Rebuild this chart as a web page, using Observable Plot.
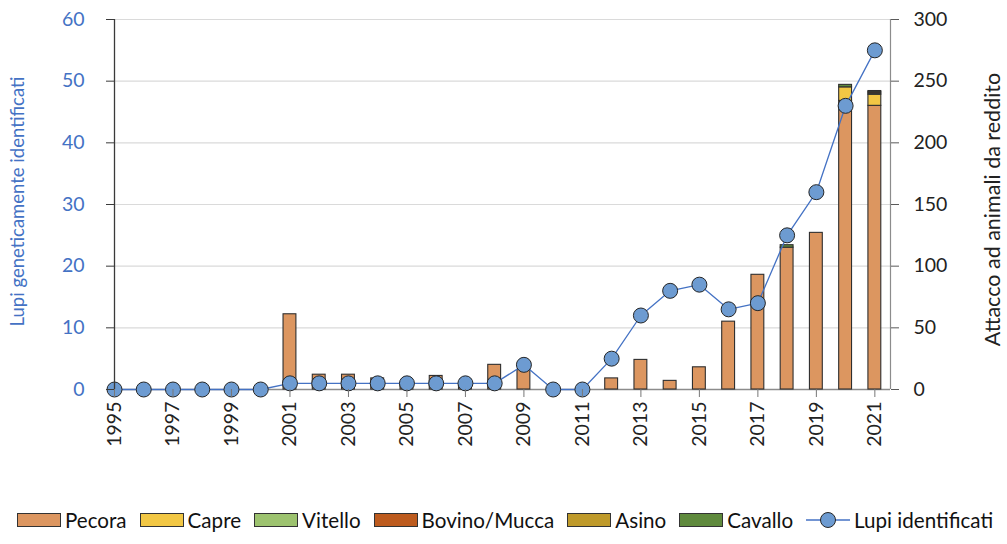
<!DOCTYPE html>
<html>
<head>
<meta charset="utf-8">
<script src="https://cdn.jsdelivr.net/npm/d3@7"></script>
<script src="https://cdn.jsdelivr.net/npm/@observablehq/plot@0.6"></script>
<style>
  html, body { margin: 0; padding: 0; background: #fff; overflow: hidden; }
  body { width: 1007px; height: 544px; font-family: Lato, "Open Sans", sans-serif; }
  #legend { display: flex; align-items: center; white-space: nowrap; height: 26px; margin-top: 7px;
            padding-left: 17px; font-size: 20.6px; color: #111; overflow: hidden; width: 990px; }
  .item { display: flex; align-items: center; margin-right: 13px; }
  .sw { width: 44px; height: 14px; border: 1px solid #333; box-sizing: border-box; margin-right: 4px; }
</style>
</head>
<body>
<div id="chart"></div>
<div id="legend"></div>
<script>
const years   = [1995,1996,1997,1998,1999,2000,2001,2002,2003,2004,2005,2006,2007,2008,2009,2010,2011,2012,2013,2014,2015,2016,2017,2018,2019,2020,2021];
const pecora  = [0,0,0,0,0,0,61,12,12,9,5,11,3,20,16,0,0,9,24,7,18,55,93,115,127,234,230];
const capre   = [0,0,0,0,0,0,0,0,0,0,0,0,0,0,0,0,0,0,0,0,0,0,0,0,0,11,9];
const vitello = [0,0,0,0,0,0,0,0,0,0,0,0,0,0,0,0,0,0,0,0,0,0,0,0,0,0,1];
const bovino  = [0,0,0,0,0,0,0,0,0,0,0,0,0,0,0,0,0,0,0,0,0,0,0,0,0,0,1];
const asino   = [0,0,0,0,0,0,0,0,0,0,0,0,0,0,0,0,0,0,0,0,0,0,0,0,0,0,0];
const cavallo = [0,0,0,0,0,0,0,0,0,0,0,0,0,0,0,0,0,0,0,0,0,0,0,2,0,2,1];
const lupi    = [0,0,0,0,0,0,1,1,1,1,1,1,1,1,4,0,0,5,12,16,17,13,14,25,32,46,55];

const seriesNames  = ["Pecora","Capre","Vitello","Bovino/Mucca","Asino","Cavallo"];
const seriesValues = [pecora, capre, vitello, bovino, asino, cavallo];
const seriesColors = ["#dc9660","#f2c744","#9dc36f","#bd5b1e","#bf9a2a","#5f8a3d"];
const lineName = "Lupi identificati";
const leftTicks  = [0,10,20,30,40,50,60];
const rightTicks = [0,50,100,150,200,250,300];
const xTicks = [1995,1997,1999,2001,2003,2005,2007,2009,2011,2013,2015,2017,2019,2021];
const leftTitle  = "Lupi geneticamente identificati";
const rightTitle = "Attacco ad animali da reddito";

// stacked table
const stacked = [];
years.forEach((yr, i) => {
  let base = 0;
  seriesNames.forEach((name, s) => {
    const v = seriesValues[s][i];
    if (v > 0) stacked.push({year: yr, species: name, y1: base, y2: base + v});
    base += v;
  });
});
const lineData = years.map((yr, i) => ({year: yr, lupi: lupi[i]}));

const ratio = 5; // right axis (300) / left axis (60)
const blue = "#4472c4";
const xDomain = [1995, 2021.535];
const halfW = 0.22;

const plot = Plot.plot({
  width: 1007,
  height: 500,
  marginLeft: 114,
  marginRight: 117,
  marginTop: 19,
  marginBottom: 111,
  style: {fontFamily: "Lato, 'Open Sans', sans-serif", fontSize: "19.5px", background: "#fff"},
  x: {type: "linear", domain: xDomain},
  y: {domain: [0, 300]},
  color: {domain: seriesNames, range: seriesColors},
  marks: [
    Plot.gridY(rightTicks.slice(1), {stroke: "#dadada", strokeOpacity: 1, strokeWidth: 1.1}),
    Plot.ruleY([0], {stroke: "#8c8c8c", strokeWidth: 1.5}),
    Plot.rectY(stacked, {
      x1: d => d.year - halfW, x2: d => d.year + halfW,
      y1: "y1", y2: "y2", fill: "species", stroke: "#2f2f2f", strokeWidth: 1.1
    }),
    Plot.line(lineData, {x: "year", y: d => d.lupi * ratio, stroke: blue, strokeWidth: 1.3}),
    Plot.dot(lineData, {x: "year", y: d => d.lupi * ratio, r: 7.5, fill: "#6d9bd1", stroke: "#262626", strokeWidth: 1, fillOpacity: 1}),
    Plot.ruleX([xDomain[0]], {stroke: "#3a3a3a", strokeWidth: 1.3}),
    Plot.ruleX([xDomain[1]], {stroke: "#8c8c8c", strokeWidth: 1.2}),
    Plot.axisY(leftTicks.map(d => d * ratio), {
      anchor: "left", tickFormat: d => String(d / ratio), tickSize: 8, tickPadding: 22,
      stroke: "#3a3a3a", fill: blue, label: null, fontSize: 19.5
    }),
    Plot.axisY(rightTicks, {
      anchor: "right", tickSize: 8, tickPadding: 15, stroke: "#5a5a5a", fill: "#222", label: null, fontSize: 19.5
    }),
    Plot.axisX(xTicks, {
      anchor: "bottom", tickFormat: d => String(d), tickRotate: -90, tickSize: 8, tickPadding: 4,
      stroke: "#777", fill: "#222", label: null, fontSize: 19.5
    }),
    Plot.text([leftTitle], {frameAnchor: "left", textAnchor: "middle", dx: -96, dy: -3, rotate: -90, fill: blue, fontSize: 18.5, text: d => d}),
    Plot.text([rightTitle], {frameAnchor: "right", textAnchor: "middle", dx: 103, dy: 5, rotate: -90, fill: "#222", fontSize: 21.5, text: d => d})
  ]
});
document.getElementById("chart").appendChild(plot);

// legend
const legend = document.getElementById("legend");
seriesNames.forEach((name, s) => {
  const it = document.createElement("div");
  it.className = "item";
  const sw = document.createElement("div");
  sw.className = "sw";
  sw.style.background = seriesColors[s];
  it.appendChild(sw);
  it.appendChild(document.createTextNode(name));
  legend.appendChild(it);
});
const li = document.createElement("div");
li.className = "item";
li.innerHTML = `<svg width="44" height="18" style="margin-right:4px"><line x1="0" y1="9" x2="44" y2="9" stroke="${blue}" stroke-width="1.3"/><circle cx="22" cy="9" r="7.5" fill="#6d9bd1" stroke="#262626"/></svg>`;
li.appendChild(document.createTextNode(lineName));
legend.appendChild(li);
</script>
</body>
</html>
